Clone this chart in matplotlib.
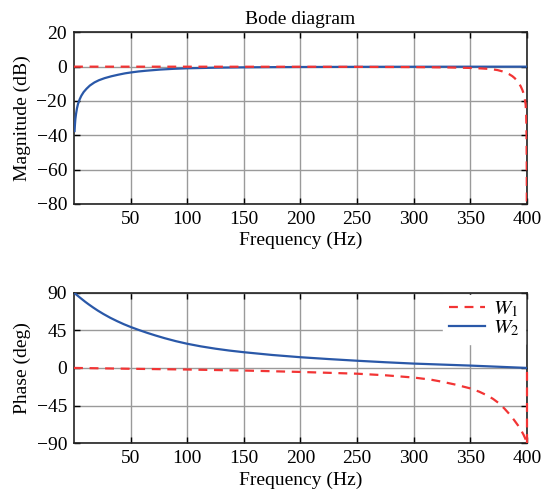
import matplotlib
matplotlib.use("Agg")
import matplotlib.pyplot as plt

# Magnitude responses (Hz, dB)
w1_mag_freq = [0, 100, 200, 250, 300, 330, 350, 360, 366, 370, 374, 378, 381, 384,
               387, 389, 391, 393, 394.5, 396, 397, 398, 398.8, 399.3, 399.6, 399.8,
               400]
w1_mag_db = [0, -0.02, -0.07, -0.12, -0.25, -0.45, -0.75, -1.05, -1.3, -1.6, -2.0,
             -2.7, -3.4, -4.3, -5.5, -6.6, -8.0, -9.8, -11.5, -13.7, -15.6, -18.5,
             -22, -28, -40, -60, -150]

w2_mag_freq = [0.5, 0.8, 1.2, 1.8, 2.6, 3.5, 5, 6.5, 8.5, 11, 14, 18, 22, 27, 33, 39,
               45, 50, 57, 64, 76, 88, 100, 125, 150, 175, 200, 250, 300, 350, 400]
w2_mag_db = [-37.5, -34, -30.5, -27.5, -24.3, -21.8, -19, -16.9, -14.8, -12.9, -11,
             -9.2, -7.9, -6.7, -5.6, -4.7, -3.9, -3.4, -2.8, -2.35, -1.7, -1.25,
             -0.95, -0.6, -0.4, -0.28, -0.2, -0.1, -0.05, -0.02, 0]

# Phase responses (Hz, deg); W1 wraps back to 0 exactly at 400 Hz
w1_ph_freq = [0, 50, 100, 150, 200, 250, 275, 300, 315, 325, 337, 350, 358, 365,
              370, 375, 380, 385, 389, 392, 395, 397, 398.5, 399.5, 400, 400]
w1_ph_deg = [0, -1, -1.9, -3.1, -4.8, -6.9, -8.8, -11.5, -14, -16.5, -20, -24.5,
             -28.5, -33, -37, -42, -48.5, -56, -63, -68.6, -75, -80, -84.5, -88,
             -90, 0]

w2_ph_freq = [0, 2.5, 5, 7.5, 10, 13, 17, 21, 26, 32, 38, 44, 50, 57, 65, 72, 80,
              90, 100, 112, 125, 137, 150, 175, 200, 225, 250, 275, 300, 325, 350,
              375, 400]
w2_ph_deg = [90, 87.2, 84.4, 81.7, 79, 76, 72.2, 68.6, 64.5, 60, 56, 52.3, 49, 45.5,
             41.8, 38.8, 35.6, 32, 28.9, 25.8, 23, 20.8, 18.8, 15.5, 12.8, 10.6, 8.6,
             6.8, 5.2, 4, 2.8, 1.4, 0]

freq_ticks = [50, 100, 150, 200, 250, 300, 350, 400]
mag_ticks = [20, 0, -20, -40, -60, -80]
ph_ticks = [90, 45, 0, -45, -90]

plt.rcParams['font.family'] = ['Liberation Serif', 'DejaVu Serif']
plt.rcParams['mathtext.fontset'] = 'stix'
plt.rcParams['font.size'] = 14
plt.rcParams['path.simplify'] = False

RED = '#f23434'
BLUE = '#2a58a8'
LW = 1.6
DASH = (0, (4, 3))

fig = plt.figure(figsize=(5.43, 4.95), dpi=100)
ax1 = fig.add_axes([0.1363, 0.5879, 0.8342, 0.3468])
ax2 = fig.add_axes([0.1363, 0.1047, 0.8342, 0.3040])


def style(ax):
    ax.set_xlim(0, 400)
    ax.set_xticks(freq_ticks)
    ax.grid(True, color='#9a9a9a', linewidth=1.0)
    ax.set_axisbelow(True)
    ax.tick_params(direction='in', top=True, right=True, length=4, width=1.0,
                   labelsize=14, pad=5)
    for s in ax.spines.values():
        s.set_linewidth(1.2)
        s.set_color('#222222')
        s.set_zorder(2)
    ax.set_xlabel('Frequency (Hz)', fontsize=14, labelpad=3)


def fmt(ticks):
    return [str(t).replace('-', '\u2212') for t in ticks]


ax1.plot(w1_mag_freq, w1_mag_db, color=RED, lw=LW, linestyle=DASH, zorder=4)
ax1.plot(w2_mag_freq, w2_mag_db, color=BLUE, lw=LW, zorder=3)
ax1.set_ylim(-80, 20)
ax1.set_yticks(mag_ticks)
ax1.set_yticklabels(fmt(mag_ticks))
ax1.set_ylabel('Magnitude (dB)', fontsize=14, labelpad=4)
ax1.set_title('Bode diagram', fontsize=14, pad=6)
style(ax1)

# main W1 phase curve, then the wrap at 400 Hz drawn on top of the right spine
ax2.plot(w1_ph_freq[:-1], w1_ph_deg[:-1], color=RED, lw=LW, linestyle=DASH,
         zorder=4, label='$W_1$')
ax2.plot(w1_ph_freq[-2:], w1_ph_deg[-2:], color=RED, lw=LW, linestyle=DASH,
         zorder=5, clip_on=False)
ax2.plot(w2_ph_freq, w2_ph_deg, color=BLUE, lw=LW, zorder=3, label='$W_2$')
ax2.set_ylim(-90, 90)
ax2.set_yticks(ph_ticks)
ax2.set_yticklabels(fmt(ph_ticks))
ax2.set_ylabel('Phase (deg)', fontsize=14, labelpad=4)
style(ax2)

leg = ax2.legend(loc='upper right', frameon=True, fontsize=15, handlelength=1.75,
                 handletextpad=0.4, borderpad=0.25, labelspacing=-0.05,
                 borderaxespad=0.1, fancybox=False)
leg.get_frame().set_edgecolor('white')
leg.get_frame().set_facecolor('white')
leg.get_frame().set_alpha(1.0)
leg.set_zorder(2.6)

fig.savefig('out.png', dpi=100)
